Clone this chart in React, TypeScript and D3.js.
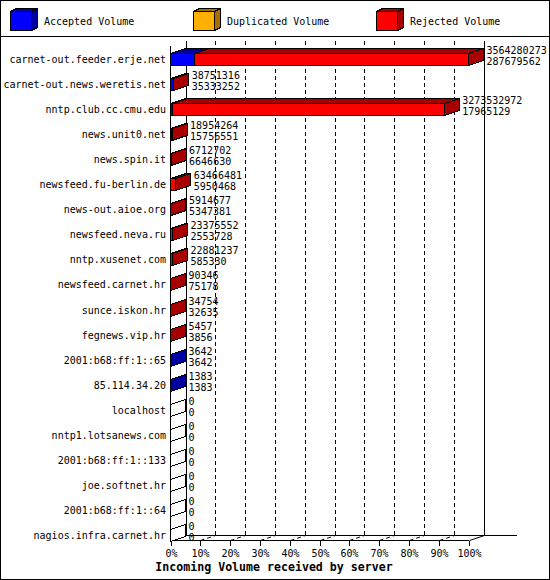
import React, { useEffect, useRef } from "react";
import * as d3 from "d3";

// servers, sorted the way the report lists them
const servers = [
  "carnet-out.feeder.erje.net",
  "carnet-out.news.weretis.net",
  "nntp.club.cc.cmu.edu",
  "news.unit0.net",
  "news.spin.it",
  "newsfeed.fu-berlin.de",
  "news-out.aioe.org",
  "newsfeed.neva.ru",
  "nntp.xusenet.com",
  "newsfeed.carnet.hr",
  "sunce.iskon.hr",
  "fegnews.vip.hr",
  "2001:b68:ff:1::65",
  "85.114.34.20",
  "localhost",
  "nntp1.lotsanews.com",
  "2001:b68:ff:1::133",
  "joe.softnet.hr",
  "2001:b68:ff:1::64",
  "nagios.infra.carnet.hr",
];
const offered = [
  3564280273, 38751316, 3273532972, 18954264, 6712702, 63466481, 5914677,
  23375552, 22881237, 90346, 34754, 5457, 3642, 1383, 0, 0, 0, 0, 0, 0,
];
const accepted = [
  287679562, 35333252, 17965129, 15756551, 6646630, 5950468, 5347381,
  2553728, 585330, 75178, 32635, 3856, 3642, 1383, 0, 0, 0, 0, 0, 0,
];
const duplicated = [0, 0, 0, 0, 0, 0, 0, 0, 0, 0, 0, 0, 0, 0, 0, 0, 0, 0, 0, 0];
const percentTicks = [0, 10, 20, 30, 40, 50, 60, 70, 80, 90, 100];
const legendLabels = ["Accepted Volume", "Duplicated Volume", "Rejected Volume"];
const fills = ["#0000ff", "#ffb000", "#ff0000"];
const shades = ["#0000a0", "#a87000", "#a80000"];

export default function App() {
  const ref = useRef<SVGSVGElement>(null);

  useEffect(() => {
    const svg = d3.select(ref.current);
    svg.selectAll("*").remove();
    const W = 550;
    const H = 580;
    const dx = 15;
    const dy = 5;
    const font = "'DejaVu Sans Mono', monospace";

    svg.append("rect")
      .attr("x", 0.5).attr("y", 0.5)
      .attr("width", W - 1).attr("height", H - 1)
      .attr("fill", "#fff").attr("stroke", "#000");
    svg.append("line")
      .attr("x1", 0).attr("x2", W).attr("y1", 36.5).attr("y2", 36.5)
      .attr("stroke", "#000");

    // legend cubes
    const legendX = [10, 193, 376];
    const lg = svg.append("g").attr("shape-rendering", "crispEdges");
    legendLabels.forEach((lab, i) => {
      const x = legendX[i] + 0.5;
      const y = 11.5;
      const w = 21;
      const h = 19;
      lg.append("polygon")
        .attr("points", [[x, y], [x + w, y], [x + w + 6, y - 3], [x + 6, y - 3]].join(" "))
        .attr("fill", shades[i]).attr("stroke", "#000");
      lg.append("polygon")
        .attr("points", [[x + w, y], [x + w + 6, y - 3], [x + w + 6, y + h - 3], [x + w, y + h]].join(" "))
        .attr("fill", shades[i]).attr("stroke", "#000");
      lg.append("rect")
        .attr("x", x).attr("y", y).attr("width", w).attr("height", h)
        .attr("fill", fills[i]).attr("stroke", "#000");
      svg.append("text")
        .attr("x", legendX[i] + 34).attr("y", 25)
        .attr("font-family", font).attr("font-size", 10)
        .text(lab);
    });

    const xLeft = 170.5;
    const xRight = 468.5;
    const frontTop = 45.5;
    const frontBase = 540.5;
    const pct = d3.scaleLinear().domain([0, 100]).range([xLeft, xRight]);
    const vol = d3.scaleLinear().domain([0, d3.max(offered) as number]).range([xLeft, xRight]);
    const y = d3.scalePoint().domain(servers).range([59, 535]);

    const grid = svg.append("g").attr("stroke", "#000").attr("shape-rendering", "crispEdges");
    // back wall lines
    percentTicks.forEach((t) => {
      const bx = Math.round(pct(t) + dx) + 0.5;
      grid.append("line")
        .attr("x1", bx).attr("x2", bx)
        .attr("y1", frontTop - dy).attr("y2", frontBase - dy)
        .attr("stroke-dasharray", t === 0 || t === 100 ? null : "4,3");
    });
    grid.append("line")
      .attr("x1", xLeft + dx).attr("x2", 517)
      .attr("y1", frontBase - dy).attr("y2", frontBase - dy);
    grid.append("line")
      .attr("x1", xLeft).attr("x2", xRight)
      .attr("y1", frontBase).attr("y2", frontBase);
    grid.append("line")
      .attr("x1", xLeft).attr("x2", xLeft)
      .attr("y1", frontTop).attr("y2", frontBase + 1);

    const slants = svg.append("g").attr("stroke", "#000");
    percentTicks.forEach((t) => {
      const fx = Math.round(pct(t)) + 0.5;
      slants.append("line")
        .attr("x1", fx).attr("y1", frontBase)
        .attr("x2", fx + dx).attr("y2", frontBase - dy)
        .attr("stroke-dasharray", t === 0 || t === 100 ? null : "4,3");
      grid.append("line")
        .attr("x1", fx).attr("x2", fx)
        .attr("y1", frontBase).attr("y2", frontBase + 5);
      svg.append("text")
        .attr("x", fx).attr("y", 557)
        .attr("text-anchor", "middle")
        .attr("font-family", font).attr("font-size", 10)
        .text(t + "%");
    });

    // bars
    const bars = svg.append("g").attr("stroke", "#000").attr("shape-rendering", "crispEdges");
    servers.forEach((s, i) => {
      const c = y(s) as number;
      const top = Math.round(c - 6) + 0.5;
      const bot = Math.round(c + 6) + 0.5;
      const parts = [accepted[i], duplicated[i], offered[i] - accepted[i] - duplicated[i]];
      let cum = 0;
      let last = -1;
      parts.forEach((v, k) => {
        if (v <= 0) return;
        const xa = vol(cum);
        const xb = vol(cum + v);
        cum += v;
        last = k;
        bars.append("polygon")
          .attr("points", [[xa, top], [xb, top], [xb + dx, top - dy], [xa + dx, top - dy]].join(" "))
          .attr("fill", shades[k]);
        bars.append("rect")
          .attr("x", xa).attr("y", top)
          .attr("width", xb - xa).attr("height", bot - top)
          .attr("fill", fills[k]);
      });
      const xe = vol(cum);
      bars.append("polygon")
        .attr("points", [[xe, top], [xe + dx, top - dy], [xe + dx, bot - dy], [xe, bot]].join(" "))
        .attr("fill", last >= 0 ? shades[last] : "#fff");

      svg.append("text")
        .attr("x", 166).attr("y", c + 4)
        .attr("text-anchor", "end")
        .attr("font-family", font).attr("font-size", 10)
        .text(s);
      const tx = xe + dx + 3;
      svg.append("text")
        .attr("x", tx).attr("y", c - 5)
        .attr("font-family", font).attr("font-size", 10)
        .text(String(offered[i]));
      svg.append("text")
        .attr("x", tx).attr("y", c + 6)
        .attr("font-family", font).attr("font-size", 10)
        .text(String(accepted[i]));
    });

    svg.append("text")
      .attr("x", 274).attr("y", 571)
      .attr("text-anchor", "middle")
      .attr("font-family", font).attr("font-size", 11.6)
      .attr("font-weight", "bold")
      .text("Incoming Volume received by server");
  }, []);

  return (
    <div style={{ position: "absolute", left: 0, top: 0 }}>
      <svg ref={ref} width={550} height={580} style={{ display: "block" }}></svg>
    </div>
  );
}
